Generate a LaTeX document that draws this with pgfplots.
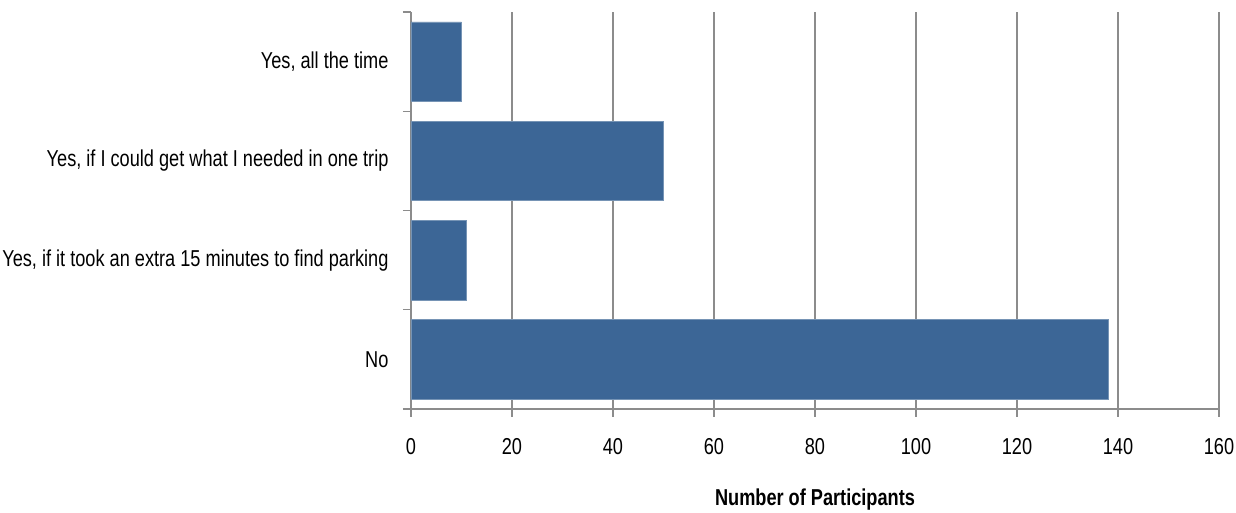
\documentclass[border=0pt]{standalone}
\usepackage{fontspec}
\setmainfont{Liberation Sans}[FakeStretch=0.79]
\usepackage{pgfplots}
\pgfplotsset{compat=1.18}
\definecolor{barblue}{HTML}{3C6696}
\definecolor{gridgray}{HTML}{8C8C8C}
\begin{document}
\begin{tikzpicture}
\useasboundingbox (-411pt,-104pt) rectangle (825pt,409pt);
\begin{axis}[
  at={(0,0)}, anchor=south west,
  scale only axis, width=808pt, height=397pt,
  xmin=0, xmax=160, ymin=-0.5, ymax=3.5,
  xtick={0,20,...,160},
  ytick={0,1,2,3},
  yticklabels={No,{Yes, if it took an extra 15 minutes to find parking},{Yes, if I could get what I needed in one trip},{Yes, all the time}},
  minor ytick={-0.5,0.5,1.5,2.5,3.5},
  axis x line*=bottom, axis y line*=left,
  axis line style={gridgray, line width=1.2pt, -},
  xmajorgrids, major grid style={gridgray, line width=1.2pt},
  x tick style={gridgray, line width=1.2pt},
  y tick style={gridgray, line width=1.2pt},
  xtick align=outside, ytick align=outside,
  major x tick style={gridgray},
  major tick length=8pt, minor tick length=8pt,
  /pgfplots/ytick style={draw=none},
  minor y tick style={draw=gridgray, line width=1.2pt},
  font=\fontsize{23}{27}\selectfont,
  /pgf/number format/assume math mode=true,
  xticklabel style={yshift=-18pt},
  yticklabel style={xshift=-11pt},
  xlabel={\bfseries Number of Participants},
  xlabel style={yshift=-27pt},
  clip=false,
]
\addplot[xbar, bar width=0.8, fill=barblue, draw=barblue!70!white, line width=0.6pt] coordinates {
  (138,0) (11,1) (50,2) (10,3)
};
\end{axis}
\end{tikzpicture}
\end{document}
